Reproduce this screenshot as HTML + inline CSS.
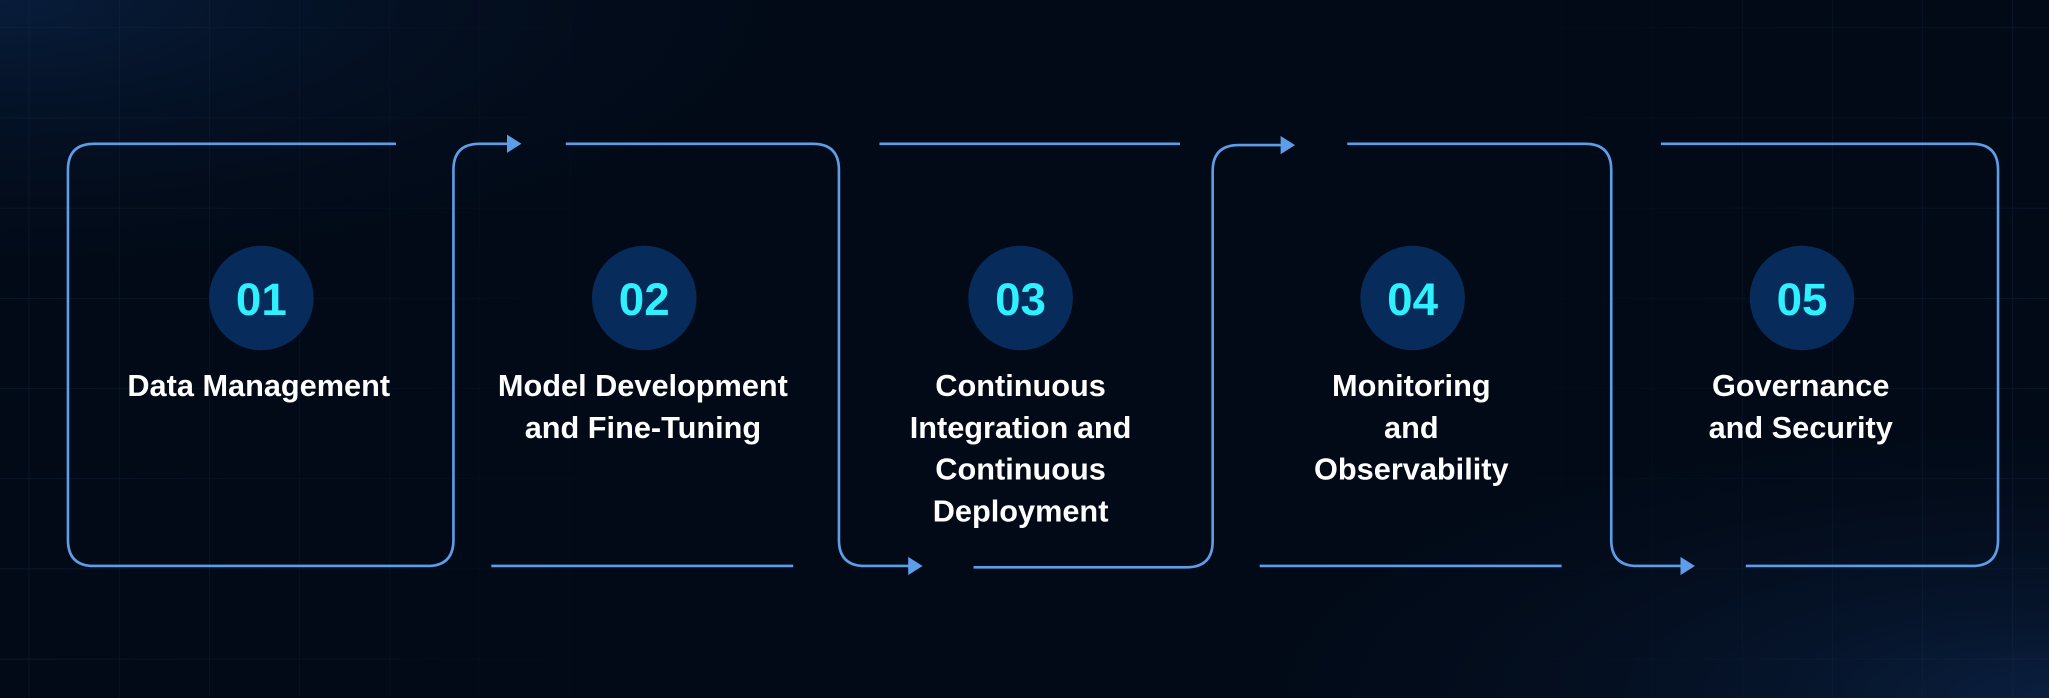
<!DOCTYPE html>
<html><head><meta charset="utf-8"><style>
html,body{margin:0;padding:0;width:2049px;height:698px;overflow:hidden;background:#020a17}
svg{display:block}
</style></head><body>
<svg width="2049" height="698" viewBox="0 0 1568 534" preserveAspectRatio="none">
<defs>
<radialGradient id="g1" cx="0" cy="0" r="0.45"><stop offset="0" stop-color="#081d3b"/><stop offset="1" stop-color="#020a17" stop-opacity="0"/></radialGradient>
<radialGradient id="g2" cx="1" cy="1" r="0.45"><stop offset="0" stop-color="#0a1f3f"/><stop offset="1" stop-color="#020a17" stop-opacity="0"/></radialGradient>
<pattern id="grid" width="69" height="69" patternUnits="userSpaceOnUse" x="22" y="21"><path d="M0 0H69M0 0V69" stroke="#1a3150" stroke-width="1" fill="none"/></pattern>
<linearGradient id="fade" x1="0" y1="0" x2="1" y2="0"><stop offset="0" stop-color="#fff" stop-opacity="0.5"/><stop offset="0.35" stop-color="#fff" stop-opacity="0"/><stop offset="0.7" stop-color="#fff" stop-opacity="0"/><stop offset="1" stop-color="#fff" stop-opacity="0.5"/></linearGradient>
<mask id="m"><rect width="1568" height="534" fill="url(#fade)"/></mask>
</defs>
<rect width="1568" height="534" fill="#020a17"/>
<rect width="1568" height="534" fill="url(#g1)"/>
<rect width="1568" height="534" fill="url(#g2)"/>
<rect width="1568" height="534" fill="url(#grid)" mask="url(#m)"/>
<g fill="none" stroke="#5e9ee8" stroke-width="2">
<path d="M303,110 H72 Q52,110 52,130 V413 Q52,433 72,433 H327 Q347,433 347,413 V130 Q347,110 367,110 H390"/>
<path d="M433,110 H622 Q642,110 642,130 V413 Q642,433 662,433 H698"/>
<path d="M376,433 H607"/>
<path d="M673,110 H903"/>
<path d="M745,434 H908 Q928,434 928,414 V131 Q928,111 948,111 H982"/>
<path d="M1031,110 H1213 Q1233,110 1233,130 V413 Q1233,433 1253,433 H1289"/>
<path d="M964,433 H1195"/>
<path d="M1271,110 H1509 Q1529,110 1529,130 V413 Q1529,433 1509,433 H1336"/>
</g>
<g fill="#5e9ee8">
<path d="M388,103 L399,110 L388,117Z"/>
<path d="M695,426 L706,433 L695,440Z"/>
<path d="M980,104 L991,111 L980,118Z"/>
<path d="M1286,426 L1297,433 L1286,440Z"/>
</g>
<g fill="#072b5a">
<circle cx="200" cy="228" r="40"/><circle cx="493" cy="228" r="40"/><circle cx="781" cy="228" r="40"/><circle cx="1081" cy="228" r="40"/><circle cx="1379" cy="228" r="40"/>
</g>
<g fill="#2ef0ff" font-family="Liberation Sans, sans-serif" font-weight="bold" font-size="35" text-anchor="middle">
<text x="200" y="241">01</text><text x="493" y="241">02</text><text x="781" y="241">03</text><text x="1081" y="241">04</text><text x="1379" y="241">05</text>
</g>
<g fill="#ffffff" font-family="Liberation Sans, sans-serif" font-weight="bold" font-size="23.5" text-anchor="middle">
<text x="198" y="303">Data Management</text>
<text x="492" y="303">Model Development</text><text x="492" y="335">and Fine-Tuning</text>
<text x="781" y="303">Continuous</text><text x="781" y="335">Integration and</text><text x="781" y="367">Continuous</text><text x="781" y="399">Deployment</text>
<text x="1080" y="303">Monitoring</text><text x="1080" y="335">and</text><text x="1080" y="367">Observability</text>
<text x="1378" y="303">Governance</text><text x="1378" y="335">and Security</text>
</g>
</svg>
</body></html>
